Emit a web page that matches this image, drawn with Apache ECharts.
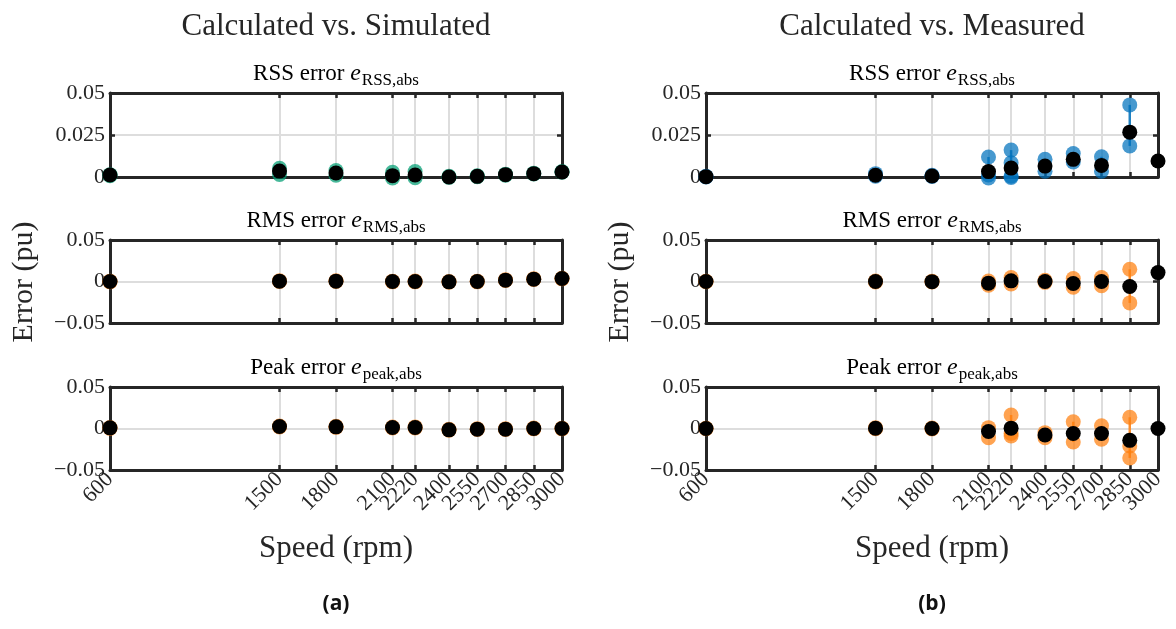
<!DOCTYPE html>
<html>
<head>
<meta charset="utf-8">
<script src="https://cdn.jsdelivr.net/npm/echarts@6/dist/echarts.min.js"></script>
<style>
  html, body { margin: 0; padding: 0; background: #fff; }
  #chart { width: 1176px; height: 629px; }
</style>
</head>
<body>
<div id="chart"></div>
<script>
// speeds (rpm) used for ticks and points
const speeds = [600, 1500, 1800, 2100, 2220, 2400, 2550, 2700, 2850, 3000];

// Calculated vs. Simulated
const simRssMean = [0.0012, 0.0035, 0.0024, 0.0008, 0.0012, 0.0000, 0.0004, 0.0014, 0.0020, 0.0030];
const simRssRuns = [[0.0014, 0.0008], [0.0052, 0.0015], [0.0038, 0.0010], [0.0028, -0.0006], [0.0033, -0.0004],
                    [0.0004, -0.0002], [0.0007, 0.0002], [0.0017, 0.0011], [0.0023, 0.0018], [0.0032, 0.0028]];
const simRmsMean = [0.0000, 0.0004, 0.0004, 0.0000, 0.0000, -0.0004, 0.0000, 0.0016, 0.0028, 0.0036];
const simRmsRuns = [[0.0004, -0.0004], [0.0008, 0.0000], [0.0008, 0.0000], [0.0004, -0.0004], [0.0005, -0.0004],
                    [0.0000, -0.0008], [0.0004, -0.0004], [0.0020, 0.0012], [0.0032, 0.0024], [0.0040, 0.0032]];
const simPeakMean = [0.0008, 0.0024, 0.0020, 0.0012, 0.0012, -0.0016, -0.0008, -0.0008, 0.0000, 0.0000];
const simPeakRuns = [[0.0012, 0.0002], [0.0030, 0.0018], [0.0026, 0.0014], [0.0018, 0.0006], [0.0019, 0.0006],
                     [-0.0010, -0.0020], [-0.0003, -0.0012], [-0.0003, -0.0012], [0.0005, -0.0004], [0.0004, -0.0004]];

// Calculated vs. Measured
const meaRssMean = [0.0002, 0.0010, 0.0006, 0.0032, 0.0053, 0.0065, 0.0105, 0.0069, 0.0267, 0.0095];
const meaRssRuns = [[0.0004, 0.0000], [0.0020, 0.0005], [0.0010, 0.0003], [0.0119, 0.0012, -0.0006], [0.0160, 0.0085, 0.0005, -0.0003],
                    [0.0105, 0.0034], [0.0140, 0.0089], [0.0120, 0.0034], [0.0429, 0.0185], []];
const meaRmsMean = [0.0000, 0.0000, -0.0002, -0.0020, 0.0008, 0.0000, -0.0024, 0.0000, -0.0060, 0.0107];
const meaRmsRuns = [[0.0003, -0.0003], [0.0005, -0.0005], [0.0003, -0.0005], [0.0005, -0.0045], [0.0048, -0.0030],
                    [0.0015, -0.0010], [0.0036, -0.0070], [0.0048, -0.0050], [0.0147, -0.0258], []];
const meaPeakMean = [0.0000, 0.0003, 0.0000, -0.0037, 0.0004, -0.0078, -0.0060, -0.0060, -0.0143, 0.0000];
const meaPeakRuns = [[0.0003, -0.0003], [0.0008, -0.0003], [0.0005, -0.0005], [0.0010, -0.0110], [0.0163, -0.0060, -0.0090],
                     [-0.0050, -0.0110], [0.0082, -0.0163], [0.0033, -0.0130], [0.0135, -0.0210, -0.0355], []];

const columnTitles = ['Calculated vs. Simulated', 'Calculated vs. Measured'];
const panelNames = [['RSS error ', 'RSS,abs'], ['RMS error ', 'RMS,abs'], ['Peak error ', 'peak,abs']];
const panelLetters = ['(a)', '(b)'];

const GREEN = '#009e73';
const BLUE = '#0072bd';
const ORANGE = '#ff7f0e';
const INK = '#262626';
const SERIF = '"Liberation Serif", "DejaVu Serif", serif';

const colLeft = [110, 706];
const gridW = 452;
const rowTop = [93, 240, 387];
const gridH = [84, 83, 83];

const panels = [
  { col: 0, row: 0, mean: simRssMean, runs: simRssRuns, color: GREEN },
  { col: 0, row: 1, mean: simRmsMean, runs: simRmsRuns, color: ORANGE },
  { col: 0, row: 2, mean: simPeakMean, runs: simPeakRuns, color: ORANGE },
  { col: 1, row: 0, mean: meaRssMean, runs: meaRssRuns, color: BLUE },
  { col: 1, row: 1, mean: meaRmsMean, runs: meaRmsRuns, color: ORANGE },
  { col: 1, row: 2, mean: meaPeakMean, runs: meaPeakRuns, color: ORANGE }
];

function fmtY(v) {
  if (Math.abs(v) < 1e-9) return '0';
  const s = String(+Math.abs(v).toFixed(4));
  return v < 0 ? '\u2212' + s : s;
}

// tick labels are split over two overlaid axes so ECharts does not drop
// the crowded ones next to the axis ends
const labelsA = speeds.filter(function (s, k) { return k % 2 === 0; });
const labelsB = speeds.filter(function (s, k) { return k % 2 === 1; });

const grids = [], xAxes = [], yAxes = [], series = [], graphics = [];

panels.forEach(function (p, i) {
  grids.push({
    left: colLeft[p.col], top: rowTop[p.row], width: gridW, height: gridH[p.row],
    show: false, outerBoundsMode: 'none'
  });
  const bottomRow = p.row === 2;
  const tickStyle = { show: true, inside: true, length: 5, customValues: speeds, lineStyle: { color: INK, width: 2.5 } };
  const labelStyle = {
    show: bottomRow, rotate: 45, margin: 6, hideOverlap: false,
    color: INK, fontFamily: SERIF, fontSize: 22, showMinLabel: true, showMaxLabel: true,
    formatter: function (v) { return String(v); }
  };
  xAxes.push({
    type: 'value', gridIndex: i, position: 'bottom', min: 600, max: 3000,
    axisLine: { show: true, onZero: false, lineStyle: { color: INK, width: 3 } },
    axisTick: tickStyle,
    splitLine: { show: true, lineStyle: { color: '#dddddd', width: 2 } },
    axisLabel: Object.assign({ customValues: labelsA }, labelStyle)
  });
  xAxes.push({
    type: 'value', gridIndex: i, position: 'top', min: 600, max: 3000,
    axisLine: { show: true, onZero: false, lineStyle: { color: INK, width: 3 } },
    axisTick: tickStyle,
    splitLine: { show: false },
    axisLabel: { show: false }
  });
  xAxes.push({
    type: 'value', gridIndex: i, position: 'bottom', min: 600, max: 3000,
    axisLine: { show: false }, axisTick: { show: false }, splitLine: { show: false },
    axisLabel: Object.assign({ customValues: labelsB }, labelStyle)
  });
  const isRss = p.row === 0;
  const yBase = {
    type: 'value', gridIndex: i,
    min: isRss ? 0 : -0.05, max: 0.05, interval: isRss ? 0.025 : 0.05
  };
  const yTick = { show: true, inside: true, length: 5, lineStyle: { color: INK, width: 2.5 } };
  yAxes.push(Object.assign({}, yBase, {
    position: 'left',
    axisLine: { show: true, onZero: false, lineStyle: { color: INK, width: 3 } },
    axisTick: yTick,
    splitLine: { show: true, lineStyle: { color: '#dddddd', width: 2 } },
    axisLabel: { show: true, margin: 5, color: INK, fontFamily: SERIF, fontSize: 22, formatter: fmtY, hideOverlap: false }
  }));
  yAxes.push(Object.assign({}, yBase, {
    position: 'right',
    axisLine: { show: true, onZero: false, lineStyle: { color: INK, width: 3 } },
    axisTick: yTick,
    splitLine: { show: false },
    axisLabel: { show: false }
  }));

  const xi = i * 3, yi = i * 2;
  const ranges = [], runPts = [], meanPts = [];
  speeds.forEach(function (s, k) {
    const r = p.runs[k];
    if (r.length) {
      ranges.push([s, Math.min.apply(null, r), Math.max.apply(null, r)]);
      r.forEach(function (v) { runPts.push([s, v]); });
    }
    meanPts.push([s, p.mean[k]]);
  });
  const col = p.color;
  series.push({
    type: 'custom', xAxisIndex: xi, yAxisIndex: yi, z: 3, clip: false, silent: true,
    data: ranges,
    renderItem: function (params, api) {
      const a = api.coord([api.value(0), api.value(1)]);
      const b = api.coord([api.value(0), api.value(2)]);
      return { type: 'line', shape: { x1: a[0], y1: a[1], x2: b[0], y2: b[1] },
        style: { stroke: col, lineWidth: 2.5, opacity: 0.85 } };
    }
  });
  series.push({
    type: 'scatter', xAxisIndex: xi, yAxisIndex: yi, z: 4, clip: false,
    symbolSize: 15, data: runPts, itemStyle: { color: col, opacity: 0.72 }, silent: true
  });
  series.push({
    type: 'scatter', xAxisIndex: xi, yAxisIndex: yi, z: 5, clip: false,
    symbolSize: 15, data: meanPts, itemStyle: { color: '#000', opacity: 1 }, silent: true
  });

  // subplot title
  const nm = panelNames[p.row];
  graphics.push({
    type: 'text', x: colLeft[p.col] + gridW / 2, y: rowTop[p.row] - 19,
    style: {
      text: '{t|' + nm[0] + '}{e|e}{s|' + nm[1] + '}',
      align: 'center', verticalAlign: 'middle',
      rich: {
        t: { fontFamily: SERIF, fontSize: 23, color: INK, lineHeight: 32, verticalAlign: 'middle' },
        e: { fontFamily: SERIF, fontSize: 24, fontStyle: 'italic', color: INK, lineHeight: 32, verticalAlign: 'middle' },
        s: { fontFamily: SERIF, fontSize: 17, color: INK, lineHeight: 32, verticalAlign: 'bottom', padding: [0, 0, 1, 1] }
      }
    }
  });
});

[0, 1].forEach(function (c) {
  const cx = colLeft[c] + gridW / 2;
  graphics.push({ type: 'text', x: cx, y: 27,
    style: { text: columnTitles[c], fontFamily: SERIF, fontSize: 31, fill: INK, align: 'center', verticalAlign: 'middle' } });
  graphics.push({ type: 'text', x: colLeft[c] - 86, y: 282, rotation: Math.PI / 2,
    style: { text: 'Error (pu)', fontFamily: SERIF, fontSize: 30, fill: INK, align: 'center', verticalAlign: 'middle' } });
  graphics.push({ type: 'text', x: cx, y: 549,
    style: { text: 'Speed (rpm)', fontFamily: SERIF, fontSize: 31, fill: INK, align: 'center', verticalAlign: 'middle' } });
  graphics.push({ type: 'text', x: cx, y: 604,
    style: { text: panelLetters[c], fontFamily: '"Open Sans", "Noto Sans", sans-serif', fontWeight: 'bold', fontSize: 21, fill: '#111', align: 'center', verticalAlign: 'middle' } });
});

const chart = echarts.init(document.getElementById('chart'), null, { renderer: 'canvas' });
chart.setOption({
  animation: false,
  backgroundColor: '#fff',
  grid: grids,
  xAxis: xAxes,
  yAxis: yAxes,
  series: series,
  graphic: graphics
});
</script>
</body>
</html>
